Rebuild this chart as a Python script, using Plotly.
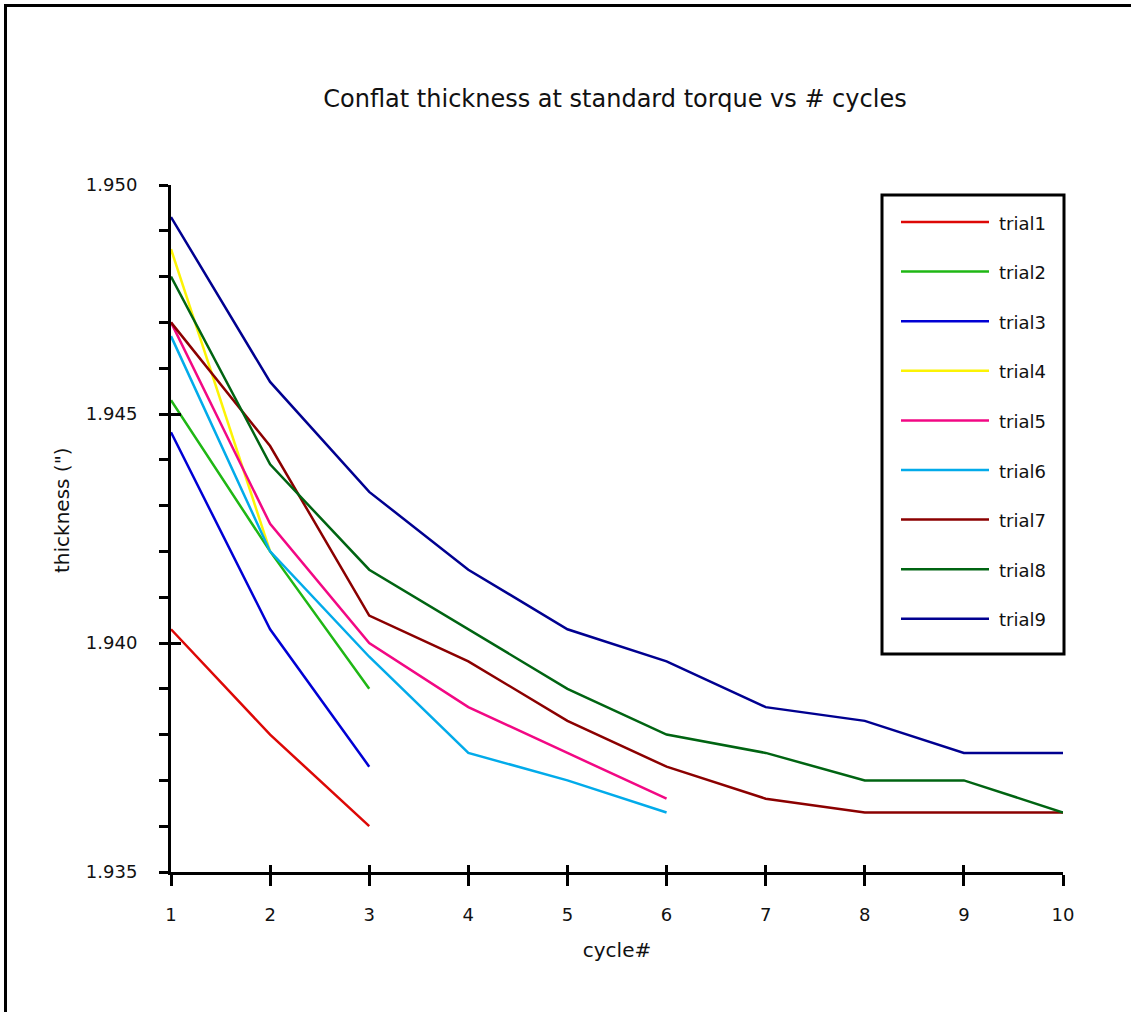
import plotly.graph_objects as go

# Measured conflat thickness (inches) per torque cycle for each trial
cycles = [1, 2, 3, 4, 5, 6, 7, 8, 9, 10]
trial1 = [1.9403, 1.9380, 1.9360]
trial2 = [1.9453, 1.9420, 1.9390]
trial3 = [1.9446, 1.9403, 1.9373]
trial4 = [1.9486, 1.9420]
trial5 = [1.9470, 1.9426, 1.9400, 1.9386, 1.9376, 1.9366]
trial6 = [1.9467, 1.9420, 1.9397, 1.9376, 1.9370, 1.9363]
trial7 = [1.9470, 1.9443, 1.9406, 1.9396, 1.9383, 1.9373, 1.9366, 1.9363, 1.9363, 1.9363]
trial8 = [1.9480, 1.9439, 1.9416, 1.9403, 1.9390, 1.9380, 1.9376, 1.9370, 1.9370, 1.9363]
trial9 = [1.9493, 1.9457, 1.9433, 1.9416, 1.9403, 1.9396, 1.9386, 1.9383, 1.9376, 1.9376]

names = ["trial1", "trial2", "trial3", "trial4", "trial5",
         "trial6", "trial7", "trial8", "trial9"]
series = [trial1, trial2, trial3, trial4, trial5, trial6, trial7, trial8, trial9]
colors = ["#DD0806", "#1FB714", "#0000D4", "#FCF305", "#F20884",
          "#02ABEA", "#8B0000", "#006412", "#000090"]

FONT = "DejaVu Sans"
W, H = 1131, 1012
ML, MR, MT, MB = 171, 68, 185, 140
PW, PH = W - ML - MR, H - MT - MB


def xp(px):
    return (px - ML) / PW


def yp(py):
    return (H - MB - py) / PH


fig = go.Figure()
for i, (name, ys, col) in enumerate(zip(names, series, colors)):
    # the last series sits on the overlay axes so their crossing ticks are drawn
    last = i == len(names) - 1
    fig.add_trace(go.Scatter(
        x=cycles[:len(ys)], y=ys, mode="lines", name=name,
        line=dict(color=col, width=2.5), showlegend=False,
        xaxis="x2" if last else "x", yaxis="y2" if last else "y",
    ))

shapes = []
annotations = []

# Legend box with long line samples
shapes.append(dict(type="rect", xref="paper", yref="paper",
                   x0=xp(882), x1=xp(1064), y0=yp(195), y1=yp(654),
                   line=dict(color="black", width=3), fillcolor="white", layer="above"))
for i, (name, col) in enumerate(zip(names, colors)):
    ry = 222 + i * 49.6
    shapes.append(dict(type="line", xref="paper", yref="paper",
                       x0=xp(901), x1=xp(989), y0=yp(ry), y1=yp(ry),
                       line=dict(color=col, width=2.5), layer="above"))
    annotations.append(dict(xref="paper", yref="paper", x=xp(997), y=yp(ry + 1),
                            text=name, showarrow=False, xanchor="left", yanchor="middle",
                            font=dict(family=FONT, size=18, color="#111")))

# Y axis title
annotations.append(dict(xref="paper", yref="paper", x=xp(62), y=yp(510),
                        text="thickness (\")", showarrow=False, textangle=-90,
                        xanchor="center", yanchor="middle",
                        font=dict(family=FONT, size=20, color="#111")))

# Outer frame (top and left edges)
shapes.append(dict(type="line", xref="paper", yref="paper",
                   x0=xp(4), x1=xp(W + 5), y0=yp(5.5), y1=yp(5.5),
                   line=dict(color="black", width=3)))
shapes.append(dict(type="line", xref="paper", yref="paper",
                   x0=xp(5.5), x1=xp(5.5), y0=yp(4), y1=yp(H + 5),
                   line=dict(color="black", width=3)))

axis_common = dict(showgrid=False, zeroline=False, showline=True,
                   linecolor="black", linewidth=3,
                   tickcolor="black", tickwidth=3)

fig.update_layout(
    width=W, height=H,
    margin=dict(l=ML, r=MR, t=MT, b=MB, pad=0),
    paper_bgcolor="white", plot_bgcolor="white",
    font=dict(family=FONT, size=18, color="#111"),
    title=dict(text="Conflat thickness at standard torque vs # cycles",
               x=615 / W, xref="container", xanchor="center",
               y=1 - 99 / H, yref="container", yanchor="middle",
               font=dict(family=FONT, size=24, color="#111")),
    xaxis=dict(range=[1, 10], tick0=1, dtick=1, ticks="outside", ticklen=11,
               ticklabelstandoff=13, tickfont=dict(size=18),
               title=dict(text="cycle#", standoff=20, font=dict(size=20)),
               **axis_common),
    xaxis2=dict(range=[1, 10], tick0=1, dtick=1, overlaying="x", ticks="inside",
                ticklen=7, showticklabels=False, **axis_common),
    yaxis=dict(range=[1.935, 1.950], tick0=1.935, dtick=0.005, tickformat=".3f",
               ticks="outside", ticklen=9, ticklabelstandoff=18,
               tickfont=dict(size=18),
               minor=dict(dtick=0.001, ticks="outside", ticklen=9,
                          tickwidth=3, tickcolor="black"),
               **axis_common),
    yaxis2=dict(range=[1.935, 1.950], tick0=1.935, dtick=0.005, overlaying="y",
                ticks="inside", ticklen=10, showticklabels=False, **axis_common),
    shapes=shapes,
    annotations=annotations,
    showlegend=False,
)

fig.write_html("out.html")
